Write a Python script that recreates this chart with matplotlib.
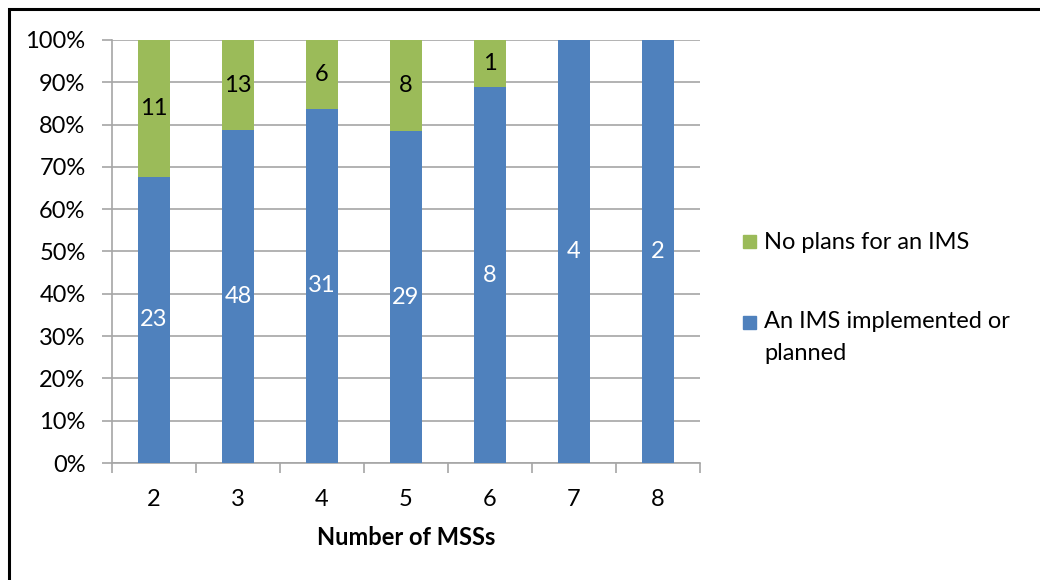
import matplotlib
matplotlib.use("Agg")
import matplotlib.pyplot as plt
from matplotlib.patches import Rectangle
from matplotlib.ticker import FixedLocator, NullFormatter
import numpy as np

# Survey counts by number of MSSs
categories = ["2", "3", "4", "5", "6", "7", "8"]
implemented = [23, 48, 31, 29, 8, 4, 2]
no_plans = [11, 13, 6, 8, 1, 0, 0]
series_names = ["An IMS implemented or\nplanned", "No plans for an IMS"]
y_ticks = [0, 10, 20, 30, 40, 50, 60, 70, 80, 90, 100]

BLUE = "#4F81BD"
GREEN = "#9BBB59"
GRID = "#A6A6A6"
FONT = "Lato"
FS = 17

plt.rcParams["font.family"] = [FONT, "DejaVu Sans"]

impl = np.array(implemented, dtype=float)
none = np.array(no_plans, dtype=float)
total = impl + none
impl_pct = impl / total * 100
none_pct = none / total * 100

W, H = 1040, 580
fig = plt.figure(figsize=(W / 100, H / 100), dpi=100)
ax = fig.add_axes([112 / W, 1 - 463 / H, (700 - 112) / W, (463 - 40) / H])

x = np.arange(len(categories))
bw = 0.39
b1 = ax.bar(x, impl_pct, width=bw, color=BLUE, zorder=3)
b2 = ax.bar(x, none_pct, width=bw, bottom=impl_pct, color=GREEN, zorder=3)

ax.bar_label(b1, labels=[str(v) if v else "" for v in implemented],
             label_type="center", color="white", fontsize=FS, zorder=4)
ax.bar_label(b2, labels=[str(v) if v else "" for v in no_plans],
             label_type="center", color="black", fontsize=FS, zorder=4)

ax.set_xlim(-0.5, len(categories) - 0.5)
ax.set_ylim(0, 100)
ax.set_yticks(y_ticks)
ax.set_yticklabels([f"{t}%" for t in y_ticks], fontsize=FS)
ax.yaxis.grid(True, color=GRID, linewidth=1.2, zorder=0)
ax.set_axisbelow(True)

# Category labels centred, tick marks on the category boundaries
ax.set_xticks(x)
ax.set_xticklabels(categories, fontsize=FS)
ax.tick_params(axis="x", which="major", length=0, pad=19)
ax.xaxis.set_minor_locator(FixedLocator(np.arange(-0.5, len(categories), 1.0)))
ax.xaxis.set_minor_formatter(NullFormatter())
ax.tick_params(axis="x", which="minor", length=7, width=1.2, color=GRID)
ax.tick_params(axis="y", length=7, width=1.2, color=GRID, pad=12)

for side in ("top", "right"):
    ax.spines[side].set_visible(False)
for side in ("left", "bottom"):
    ax.spines[side].set_color(GRID)
    ax.spines[side].set_linewidth(1.2)

ax.set_xlabel("Number of MSSs", fontsize=FS, fontweight="bold", labelpad=11)

# Legend entries on the right
legend_rows = [(GREEN, series_names[1], 242), (BLUE, series_names[0], 322)]
for color, label, yc in legend_rows:
    fig.patches.append(Rectangle((743 / W, 1 - (yc + 6.5) / H), 13 / W, 13 / H,
                                 transform=fig.transFigure, color=color))
    if "\n" in label:
        fig.text(764 / W, 1 - (yc - 11) / H, label, fontsize=FS, ha="left", va="top",
                 linespacing=1.62, transform=fig.transFigure)
    else:
        fig.text(764 / W, 1 - yc / H, label, fontsize=FS, ha="left", va="center",
                 transform=fig.transFigure)

# Outer chart frame
fig.patches.append(Rectangle((9 / W, -0.1), 1.2, 1 + 0.1 - 9.5 / H,
                             transform=fig.transFigure, fill=False,
                             edgecolor="black", linewidth=2.2))

fig.savefig("out.png", dpi=100)
